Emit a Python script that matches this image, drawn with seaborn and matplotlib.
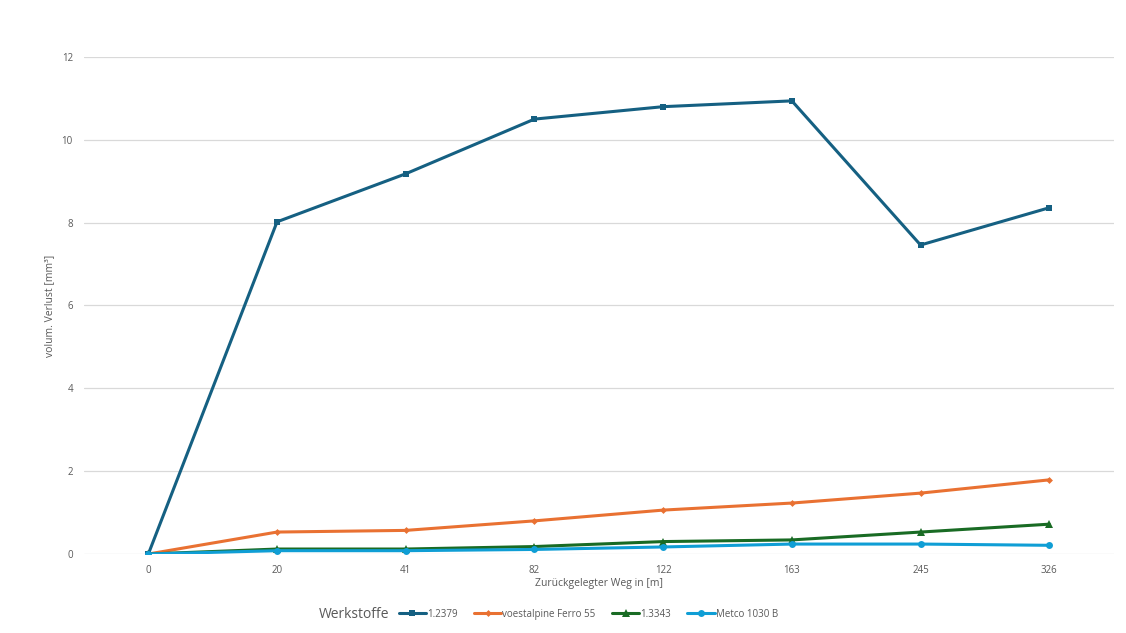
import matplotlib
matplotlib.use("Agg")
import matplotlib.pyplot as plt
import pandas as pd
import seaborn as sns

# distances (categorical axis) and volume loss per material
weg = ["0", "20", "41", "82", "122", "163", "245", "326"]
werkstoffe = ["1.2379", "voestalpine Ferro 55", "1.3343", "Metco 1030 B"]
v_12379 = [0.0, 8.02, 9.18, 10.50, 10.80, 10.94, 7.46, 8.36]
v_ferro55 = [0.0, 0.53, 0.57, 0.80, 1.06, 1.23, 1.47, 1.79]
v_13343 = [0.0, 0.12, 0.12, 0.18, 0.30, 0.34, 0.53, 0.72]
v_metco = [0.0, 0.08, 0.08, 0.11, 0.17, 0.24, 0.24, 0.21]

farben = ["#156082", "#E97132", "#196B24", "#0F9ED5"]
marker = ["s", "D", "^", "o"]
msize = [5, 3.5, 5.5, 5]

df = pd.DataFrame({
    "weg": weg * 4,
    "verlust": v_12379 + v_ferro55 + v_13343 + v_metco,
    "werkstoff": [w for w in werkstoffe for _ in weg],
})

sns.set_theme(style="white")
plt.rcParams["font.family"] = ["Open Sans", "DejaVu Sans"]

fig = plt.figure(figsize=(11.26, 6.33), dpi=100)
ax = fig.add_axes([0.0746, 0.1248, 0.9144, 0.7852])

for i, w in enumerate(werkstoffe):
    sns.lineplot(data=df[df["werkstoff"] == w], x="weg", y="verlust",
                 color=farben[i], marker=marker[i], markersize=msize[i],
                 markeredgewidth=0, linewidth=2.2, sort=False, label=w,
                 ax=ax, legend=False)

ax.set_xlim(-0.5, 7.5)
ax.set_ylim(0, 12)
ax.set_yticks([0, 2, 4, 6, 8, 10, 12])
ax.grid(axis="y", color="#D9D9D9", linewidth=0.9)
ax.set_axisbelow(True)
for s in ax.spines.values():
    s.set_visible(False)
ax.tick_params(axis="both", length=0, labelsize=7, labelcolor="#595959", pad=8)
ax.set_xlabel("Zurückgelegter Weg in [m]", fontsize=7.5, color="#595959", labelpad=1)
ax.set_ylabel("volum. Verlust [mm³]", fontsize=7.5, color="#595959", labelpad=5)

handles, labels = ax.get_legend_handles_labels()
fig.legend(handles, labels, loc="center left", bbox_to_anchor=(0.354, 0.03), ncol=4,
           frameon=False, fontsize=7, labelcolor="#595959", handlelength=2.8,
           handletextpad=0.1, columnspacing=1.7, borderaxespad=0, borderpad=0)
fig.text(0.283, 0.03, "Werkstoffe", fontsize=10, color="#595959", va="center")

fig.savefig("out.png", dpi=100, facecolor="white")
